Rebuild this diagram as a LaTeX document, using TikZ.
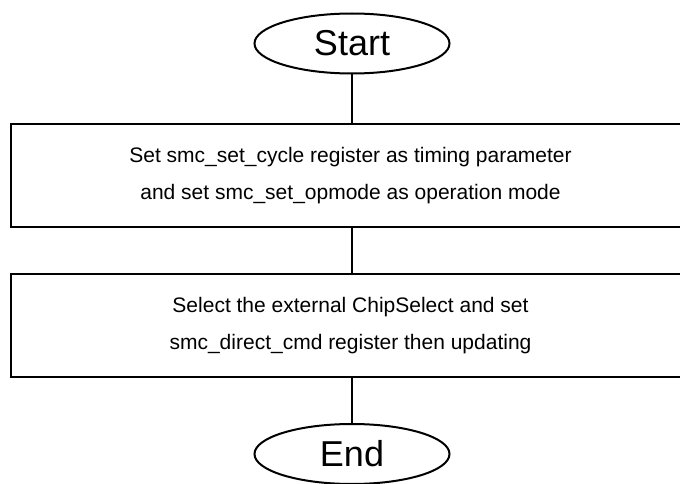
\documentclass[tikz,border=0pt]{standalone}
\usepackage{fontspec}
\setmainfont{Liberation Sans}
\usetikzlibrary{shapes.geometric}
\begin{document}
\begin{tikzpicture}[x=1pt,y=-1pt,
  term/.style={draw,line width=2pt,ellipse,minimum width=195pt,minimum height=60pt,inner sep=0pt,font=\fontsize{36}{40}\selectfont},
  proc/.style={draw,line width=2.5pt,rectangle,minimum width=679pt,minimum height=103pt,inner sep=0pt,align=center,font=\fontsize{21}{37}\selectfont},
  conn/.style={line width=2pt}]
\useasboundingbox (0,0) rectangle (680,484);
\node[term] (start) at (352,43.5) {Start};
\node[proc] (p1) at (350.5,175.5) {Set smc\_set\_cycle register as timing parameter\\and set smc\_set\_opmode as operation mode};
\node[proc] (p2) at (350.5,325.5) {Select the external ChipSelect and set\\smc\_direct\_cmd register then updating};
\node[term] (end) at (352,454) {End};
\draw[conn] (start.south) -- (start.south |- p1.north);
\draw[conn] (start.south |- p1.south) -- (start.south |- p2.north);
\draw[conn] (start.south |- p2.south) -- (end.north);
\end{tikzpicture}
\end{document}
